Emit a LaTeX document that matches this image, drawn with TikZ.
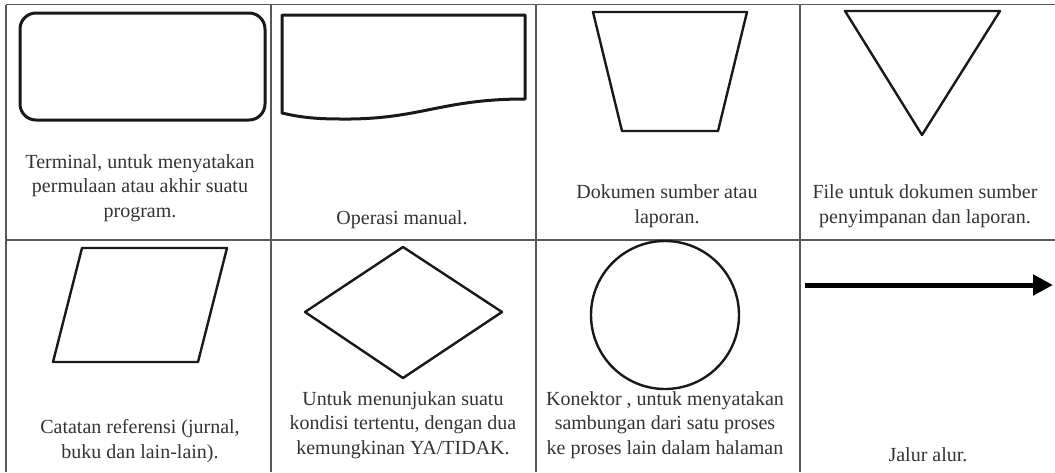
\documentclass[tikz,border=0pt]{standalone}
\usepackage{fontspec}
\setmainfont{Liberation Serif}
\usetikzlibrary{arrows.meta}
\tikzset{
 gl/.style={draw=black!65,line width=1.4pt},
 sh/.style={draw=black!90,line width=2.4pt,line join=round},
 tx/.style={align=center,inner sep=0pt,text=black!80,font=\fontsize{20}{24.5}\selectfont}}

\begin{document}
\begin{tikzpicture}[x=1pt,y=-1pt]
 \useasboundingbox (0,0) rectangle (1055,472);
 % table lines
 \draw[gl] (6,4.5)--(1055,4.5) (6,240)--(1055,240);
 \draw[gl] (6,4.5)--(6,472) (271,4.5)--(271,472) (536,4.5)--(536,472) (800,4.5)--(800,472);
 % upper row
 \draw[sh,line width=3pt,rounded corners=16pt] (20,13) rectangle (265,120);
 \draw[sh,line width=3pt] (282,15)--(525,15)--(525,99) .. controls (440,99) and (420,120) .. (340,119)
  .. controls (310,119) and (295,116) .. (282,113)--cycle;
 \draw[sh] (593,12)--(747,12)--(718,131)--(622,131)--cycle;
 \draw[sh] (845,11)--(1000,11)--(922,135)--cycle;
 \node[tx] (terminal) at (140,188) {Terminal, untuk menyatakan\\permulaan atau akhir suatu\\program.};
 \node[tx] (manual) at (402,220) {Operasi manual.};
 \node[tx] (dokumen) at (667,206) {Dokumen sumber atau\\laporan.};
 \node[tx] (file) at (925,206) {File untuk dokumen sumber\\penyimpanan dan laporan.};
 % lower row
 \draw[sh] (82,248)--(227,248)--(198,362)--(53,362)--cycle;
 \draw[sh] (403,247)--(502,312)--(403,378)--(305,312)--cycle;
 \draw[sh] (665,315) circle[radius=74];
 \coordinate (a0) at (805,285);
 \coordinate (a1) at (1053,285);
 \draw[line width=5pt,-{Triangle[length=20pt,width=20pt]}] (a0)--(a1);
 \node[tx] (catatan) at (140,441) {Catatan referensi (jurnal,\\buku dan lain-lain).};
 \node[tx] (kondisi) at (403,425) {Untuk menunjukan suatu\\kondisi tertentu, dengan dua\\kemungkinan YA/TIDAK.};
 \node[tx] (konektor) at (665,425) {Konektor , untuk menyatakan\\sambungan dari satu proses\\ke proses lain dalam halaman};
 \node[tx] (jalur) at (928,455) {Jalur alur.};
\end{tikzpicture}
\end{document}
